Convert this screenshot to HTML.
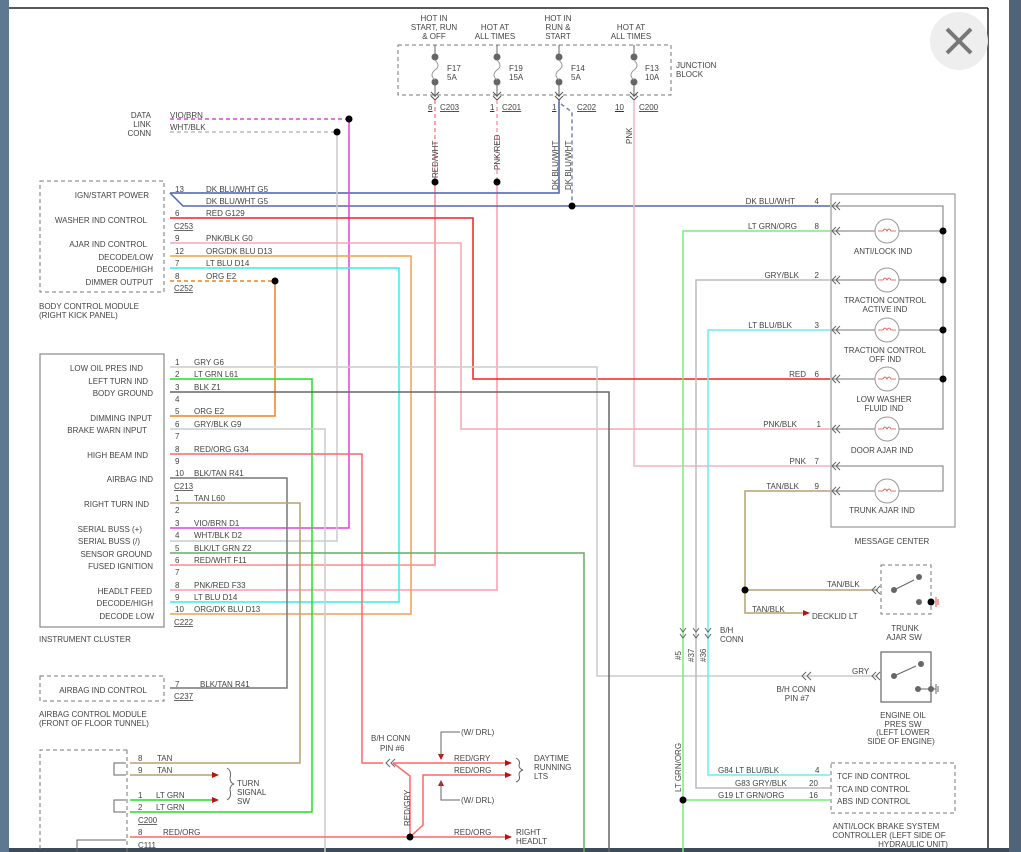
<!DOCTYPE html>
<html><head><meta charset="utf-8"><style>
html,body{margin:0;padding:0;background:#fff;width:1021px;height:852px;overflow:hidden}
svg text{font-family:"Liberation Sans",sans-serif;font-size:8px;fill:#444}
</style></head><body>
<svg width="1021" height="852" viewBox="0 0 1021 852" xmlns="http://www.w3.org/2000/svg">
<rect x="0" y="0" width="9" height="852" fill="#5f7891"/>
<rect x="1009" y="0" width="12" height="852" fill="#4f6379"/>
<rect x="9" y="848" width="1000" height="4" fill="#3d4a58"/>
<line x1="9" y1="8" x2="988" y2="8" stroke="#222" stroke-width="1.5"/>
<line x1="988" y1="8" x2="988" y2="848" stroke="#222" stroke-width="1.5"/>
<circle cx="959" cy="41" r="29" fill="#eeeeee"/>
<path d="M947 29 L971 53 M971 29 L947 53" stroke="#777" stroke-width="4"/>

<!-- junction block -->
<rect x="398" y="45" width="273" height="50" fill="none" stroke="#777" stroke-dasharray="4,3"/>
<g fill="#666" stroke="#666">
<line x1="435" y1="45" x2="435" y2="57"/><line x1="497" y1="45" x2="497" y2="57"/><line x1="559" y1="45" x2="559" y2="57"/><line x1="634" y1="45" x2="634" y2="57"/>
<circle cx="435" cy="57" r="3"/><circle cx="435" cy="82" r="3"/>
<circle cx="497" cy="57" r="3"/><circle cx="497" cy="82" r="3"/>
<circle cx="559" cy="57" r="3"/><circle cx="559" cy="82" r="3"/>
<circle cx="634" cy="57" r="3"/><circle cx="634" cy="82" r="3"/>
<line x1="435" y1="82" x2="435" y2="97"/><line x1="497" y1="82" x2="497" y2="97"/><line x1="559" y1="82" x2="559" y2="97"/><line x1="634" y1="82" x2="634" y2="97"/>
</g>
<g fill="none" stroke="#999">
<path d="M435 60 q6 6 0 10 q-6 5 0 10"/><path d="M497 60 q6 6 0 10 q-6 5 0 10"/><path d="M559 60 q6 6 0 10 q-6 5 0 10"/><path d="M634 60 q6 6 0 10 q-6 5 0 10"/>
<path d="M431 92 l4 4 l4 -4 M431 96 l4 4 l4 -4 M493 92 l4 4 l4 -4 M493 96 l4 4 l4 -4 M555 92 l4 4 l4 -4 M555 96 l4 4 l4 -4 M630 92 l4 4 l4 -4 M630 96 l4 4 l4 -4" stroke="#555"/>
</g>
<g text-anchor="middle">
<text x="434" y="21">HOT IN</text><text x="434" y="30">START, RUN</text><text x="434" y="39">&amp; OFF</text>
<text x="495" y="30">HOT AT</text><text x="495" y="39">ALL TIMES</text>
<text x="558" y="21">HOT IN</text><text x="558" y="30">RUN &amp;</text><text x="558" y="39">START</text>
<text x="631" y="30">HOT AT</text><text x="631" y="39">ALL TIMES</text>
</g>
<text x="447" y="71">F17</text><text x="447" y="80">5A</text>
<text x="509" y="71">F19</text><text x="509" y="80">15A</text>
<text x="571" y="71">F14</text><text x="571" y="80">5A</text>
<text x="645" y="71">F13</text><text x="645" y="80">10A</text>
<text x="676" y="68">JUNCTION</text><text x="676" y="77">BLOCK</text>
<g text-decoration="underline">
<text x="428" y="110">6</text><text x="440" y="110" text-decoration="underline">C203</text>
<text x="490" y="110">1</text><text x="502" y="110" text-decoration="underline">C201</text>
<text x="552" y="110">1</text><text x="577" y="110" text-decoration="underline">C202</text>
<text x="615" y="110">10</text><text x="639" y="110" text-decoration="underline">C200</text>
</g>

<!-- wires -->
<g fill="none" stroke-width="1.5">
<path d="M435 100 V182" stroke="#f88" stroke-dasharray="4,3"/>
<path d="M435 182 V565 H170" stroke="#f88"/>
<path d="M497 100 V182" stroke="#f9a" stroke-dasharray="4,3"/>
<path d="M497 182 V590 H170" stroke="#f9a"/>
<path d="M559 100 V193 H170" stroke="#4a5fa8"/>
<path d="M561 104 L572 112 V206" stroke="#7085c0" stroke-dasharray="4,3"/>
<path d="M170 193 L183 206 H830" stroke="#5068b0"/>
<path d="M634 100 V466 H830" stroke="#f9b0c0"/>
<path d="M170 119 H349" stroke="#d4d" stroke-dasharray="4,3"/>
<path d="M349 119 V528 H170" stroke="#d4d"/>
<path d="M170 132 H337" stroke="#bbb" stroke-dasharray="4,3"/>
<path d="M337 132 V541 H170" stroke="#ccc"/>
<path d="M170 218 H473 V379 H830" stroke="#e22"/>
<path d="M170 243 H461 V429 H830" stroke="#f5a8b0"/>
<path d="M170 256 H411 V614 H170" stroke="#f0a050"/>
<path d="M170 268 H399 V602 H170" stroke="#3ee"/>
<path d="M170 281 H275" stroke="#f08020" stroke-dasharray="4,3"/>
<path d="M275 281 V416 H170" stroke="#f08020"/>
<path d="M170 367 H597 V676 H878" stroke="#ccc"/>
<path d="M170 379 H312 V812 H130" stroke="#2d2"/>
<path d="M170 392 H609 V852" stroke="#666"/>
<path d="M170 429 H325 V852" stroke="#ccc"/>
<path d="M170 454 H362 V763 H383" stroke="#f66"/>
<path d="M170 478 H287 V688 H170" stroke="#777"/>
<path d="M170 503 H300 V763 H130" stroke="#b8a070"/>
<path d="M170 553 H584 V852" stroke="#6a6"/>
<path d="M130 775 H212" stroke="#b8a070"/>
<path d="M130 800 H212" stroke="#2d2"/>
<path d="M130 837 H507" stroke="#f66"/>
<path d="M393 763 H507 M393 763 L410 776 V837 M410 837 L423 825 V775 H507" stroke="#f66"/>
<path d="M830 231 H683 V852" stroke="#7e7"/>
<path d="M830 280 H696 V788 H830" stroke="#bbb"/>
<path d="M830 330 H708 V775 H830" stroke="#6ee"/>
<path d="M683 800 H830" stroke="#7e7"/>
<path d="M830 491 H745 V613 H803 M745 590 H878" stroke="#b8a070"/>
</g>
<g fill="#000">
<circle cx="349" cy="119" r="3.5"/><circle cx="337" cy="132" r="3.5"/><circle cx="435" cy="182" r="3.5"/><circle cx="497" cy="182" r="3.5"/><circle cx="572" cy="206" r="3.5"/><circle cx="275" cy="281" r="3.5"/><circle cx="410" cy="837" r="3.5"/><circle cx="683" cy="800" r="3.5"/><circle cx="745" cy="590" r="3.5"/>
</g>
<g fill="#b11">
<path d="M212 772 l7 3 l-7 3z"/><path d="M212 797 l7 3 l-7 3z"/><path d="M505 760 l7 3 l-7 3z"/><path d="M505 772 l7 3 l-7 3z"/><path d="M505 834 l7 3 l-7 3z"/><path d="M803 610 l7 3 l-7 3z"/><path d="M438 754 l3 6 l3 -6z"/><path d="M438 786 l3 -6 l3 6z"/>
</g>
<path d="M460 732 H441 V756 M441 782 V800 H460" fill="none" stroke="#666"/>
<g fill="none" stroke="#666">
<path d="M390 759 l-4 4 l4 4 M395 759 l-4 4 l4 4"/>
<path d="M806 672 l-4 4 l4 4 M811 672 l-4 4 l4 4"/>
<path d="M680 628 l3 4 l3 -4 M680 634 l3 4 l3 -4 M693 628 l3 4 l3 -4 M693 634 l3 4 l3 -4 M705 628 l3 4 l3 -4 M705 634 l3 4 l3 -4"/>
<path d="M227 768 q5 3 3 10 q0 5 4 6 q-4 1 -4 6 q2 7 -3 10" />
<path d="M516 758 q5 3 3 7 q0 4 4 5 q-4 1 -4 5 q2 5 -3 7"/>
</g>

<!-- BCM -->
<rect x="40" y="181" width="124" height="111" fill="none" stroke="#777" stroke-dasharray="4,3"/>
<g text-anchor="end">
<text x="149" y="198">IGN/START POWER</text><text x="147" y="223">WASHER IND CONTROL</text><text x="147" y="247">AJAR IND CONTROL</text><text x="153" y="260">DECODE/LOW</text><text x="153" y="272">DECODE/HIGH</text><text x="153" y="285">DIMMER OUTPUT</text>
</g>
<text x="39" y="309">BODY CONTROL MODULE</text><text x="39" y="318">(RIGHT KICK PANEL)</text>
<text x="175" y="192">13</text><text x="206" y="192">DK BLU/WHT G5</text><text x="206" y="204">DK BLU/WHT G5</text>
<text x="175" y="216">6</text><text x="206" y="216">RED G129</text><text x="174" y="229" text-decoration="underline">C253</text>
<text x="175" y="241">9</text><text x="206" y="241">PNK/BLK G0</text>
<text x="175" y="254">12</text><text x="206" y="254">ORG/DK BLU D13</text>
<text x="175" y="266">7</text><text x="206" y="266">LT BLU D14</text>
<text x="175" y="279">8</text><text x="206" y="279">ORG E2</text><text x="174" y="291" text-decoration="underline">C252</text>
<g text-anchor="end"><text x="151" y="118">DATA</text><text x="151" y="127">LINK</text><text x="151" y="136">CONN</text></g>
<text x="170" y="118">VIO/BRN</text><text x="170" y="130">WHT/BLK</text>

<!-- instrument cluster -->
<rect x="40" y="354" width="124" height="273" fill="none" stroke="#888" stroke-width="1.2"/>
<g text-anchor="end">
<text x="143" y="371">LOW OIL PRES IND</text><text x="148" y="384">LEFT TURN IND</text><text x="153" y="396">BODY GROUND</text><text x="152" y="421">DIMMING INPUT</text><text x="147" y="433">BRAKE WARN INPUT</text><text x="148" y="458">HIGH BEAM IND</text><text x="153" y="482">AIRBAG IND</text><text x="149" y="507">RIGHT TURN IND</text><text x="142" y="532">SERIAL BUSS (+)</text><text x="140" y="544">SERIAL BUSS (/)</text><text x="152" y="557">SENSOR GROUND</text><text x="153" y="569">FUSED IGNITION</text><text x="152" y="594">HEADLT FEED</text><text x="153" y="606">DECODE/HIGH</text><text x="154" y="619">DECODE LOW</text>
</g>
<text x="39" y="642">INSTRUMENT CLUSTER</text>
<g>
<text x="175" y="365">1</text><text x="194" y="365">GRY G6</text>
<text x="175" y="377">2</text><text x="194" y="377">LT GRN L61</text>
<text x="175" y="390">3</text><text x="194" y="390">BLK Z1</text>
<text x="175" y="402">4</text>
<text x="175" y="414">5</text><text x="194" y="414">ORG E2</text>
<text x="175" y="427">6</text><text x="194" y="427">GRY/BLK G9</text>
<text x="175" y="439">7</text>
<text x="175" y="452">8</text><text x="194" y="452">RED/ORG G34</text>
<text x="175" y="464">9</text>
<text x="175" y="476">10</text><text x="194" y="476">BLK/TAN R41</text>
<text x="174" y="489" text-decoration="underline">C213</text>
<text x="175" y="501">1</text><text x="194" y="501">TAN L60</text>
<text x="175" y="513">2</text>
<text x="175" y="526">3</text><text x="194" y="526">VIO/BRN D1</text>
<text x="175" y="538">4</text><text x="194" y="538">WHT/BLK D2</text>
<text x="175" y="551">5</text><text x="194" y="551">BLK/LT GRN Z2</text>
<text x="175" y="563">6</text><text x="194" y="563">RED/WHT F11</text>
<text x="175" y="575">7</text>
<text x="175" y="588">8</text><text x="194" y="588">PNK/RED F33</text>
<text x="175" y="600">9</text><text x="194" y="600">LT BLU D14</text>
<text x="175" y="612">10</text><text x="194" y="612">ORG/DK BLU D13</text>
<text x="174" y="625" text-decoration="underline">C222</text>
</g>

<!-- airbag -->
<rect x="40" y="676" width="124" height="25" fill="none" stroke="#777" stroke-dasharray="4,3"/>
<text x="103" y="693" text-anchor="middle">AIRBAG IND CONTROL</text>
<text x="175" y="687">7</text><text x="200" y="687">BLK/TAN R41</text>
<text x="174" y="699" text-decoration="underline">C237</text>
<text x="39" y="717">AIRBAG CONTROL MODULE</text><text x="39" y="726">(FRONT OF FLOOR TUNNEL)</text>

<!-- turn signal -->
<path d="M127 750 H40 V852 M127 750 V852" fill="none" stroke="#777" stroke-dasharray="4,3"/>
<path d="M126 763 H114 V775 H126 M126 800 H114 V812 H126" fill="none" stroke="#666"/>
<text x="138" y="761">8</text><text x="157" y="761">TAN</text>
<text x="138" y="773">9</text><text x="157" y="773">TAN</text>
<text x="138" y="798">1</text><text x="156" y="798">LT GRN</text>
<text x="138" y="810">2</text><text x="156" y="810">LT GRN</text>
<text x="138" y="823" text-decoration="underline">C200</text>
<text x="138" y="835">8</text><text x="163" y="835">RED/ORG</text>
<text x="138" y="848">C111</text>
<text x="237" y="786">TURN</text><text x="237" y="795">SIGNAL</text><text x="237" y="804">SW</text>
<path d="M77 852 V840 H126" fill="none" stroke="#666"/>

<text x="371" y="741">B/H CONN</text><text x="380" y="751">PIN #6</text>
<text x="461" y="735">(W/ DRL)</text><text x="461" y="803">(W/ DRL)</text>
<text x="454" y="761">RED/GRY</text><text x="454" y="773">RED/ORG</text><text x="454" y="835">RED/ORG</text>
<text x="534" y="761">DAYTIME</text><text x="534" y="770">RUNNING</text><text x="534" y="779">LTS</text>
<text x="516" y="835">RIGHT</text><text x="516" y="844">HEADLT</text>
<text transform="translate(410,826) rotate(-90)">RED/GRY</text>

<!-- vertical labels -->
<text transform="translate(438,178) rotate(-90)">RED/WHT</text>
<text transform="translate(500,170) rotate(-90)">PNK/RED</text>
<text transform="translate(558,190) rotate(-90)">DK BLU/WHT</text>
<text transform="translate(571,190) rotate(-90)">DK BLU/WHT</text>
<text transform="translate(632,144) rotate(-90)">PNK</text>
<text transform="translate(681,660) rotate(-90)">#5</text>
<text transform="translate(694,662) rotate(-90)">#37</text>
<text transform="translate(706,662) rotate(-90)">#36</text>
<text transform="translate(681,792) rotate(-90)">LT GRN/ORG</text>
<text x="720" y="633">B/H</text><text x="720" y="642">CONN</text>

<!-- message center -->
<rect x="831" y="194" width="124" height="333" fill="none" stroke="#999" stroke-width="1.2"/>
<path d="M832 206 H943 V429 H832 M832 466 H943 V491 H832 M832 231 H943 M832 280 H943 M832 330 H943 M832 379 H943" fill="none" stroke="#777"/>
<g fill="#000"><circle cx="943" cy="231" r="3.5"/><circle cx="943" cy="280" r="3.5"/><circle cx="943" cy="330" r="3.5"/><circle cx="943" cy="379" r="3.5"/></g>
<g fill="#fff" stroke="#999">
<circle cx="887" cy="231" r="12"/><circle cx="887" cy="280" r="12"/><circle cx="887" cy="330" r="12"/><circle cx="887" cy="379" r="12"/><circle cx="887" cy="429" r="12"/><circle cx="887" cy="491" r="12"/>
</g>
<g fill="none" stroke="#e44" stroke-width="0.8">
<path d="M878 231 h5 q2 -4 4 0 q2 -4 4 0 h5"/><path d="M878 280 h5 q2 -4 4 0 q2 -4 4 0 h5"/><path d="M878 330 h5 q2 -4 4 0 q2 -4 4 0 h5"/><path d="M878 379 h5 q2 -4 4 0 q2 -4 4 0 h5"/><path d="M878 429 h5 q2 -4 4 0 q2 -4 4 0 h5"/><path d="M878 491 h5 q2 -4 4 0 q2 -4 4 0 h5"/>
</g>
<g fill="none" stroke="#666">
<path d="M836 202 l-4 4 l4 4 M840 202 l-4 4 l4 4 M836 227 l-4 4 l4 4 M840 227 l-4 4 l4 4 M836 276 l-4 4 l4 4 M840 276 l-4 4 l4 4 M836 326 l-4 4 l4 4 M840 326 l-4 4 l4 4 M836 375 l-4 4 l4 4 M840 375 l-4 4 l4 4 M836 425 l-4 4 l4 4 M840 425 l-4 4 l4 4 M836 462 l-4 4 l4 4 M840 462 l-4 4 l4 4 M836 487 l-4 4 l4 4 M840 487 l-4 4 l4 4"/>
</g>
<g text-anchor="middle">
<text x="883" y="254">ANTI/LOCK IND</text>
<text x="885" y="303">TRACTION CONTROL</text><text x="885" y="312">ACTIVE IND</text>
<text x="885" y="353">TRACTION CONTROL</text><text x="885" y="362">OFF IND</text>
<text x="884" y="402">LOW WASHER</text><text x="884" y="411">FLUID IND</text>
<text x="882" y="453">DOOR AJAR IND</text>
<text x="882" y="513">TRUNK AJAR IND</text>
<text x="892" y="544">MESSAGE CENTER</text>
</g>
<g text-anchor="end">
<text x="795" y="204">DK BLU/WHT</text><text x="819" y="204">4</text>
<text x="797" y="229">LT GRN/ORG</text><text x="819" y="229">8</text>
<text x="799" y="278">GRY/BLK</text><text x="819" y="278">2</text>
<text x="792" y="328">LT BLU/BLK</text><text x="819" y="328">3</text>
<text x="806" y="377">RED</text><text x="819" y="377">6</text>
<text x="797" y="427">PNK/BLK</text><text x="821" y="427">1</text>
<text x="806" y="464">PNK</text><text x="819" y="464">7</text>
<text x="799" y="489">TAN/BLK</text><text x="819" y="489">9</text>
</g>

<!-- trunk ajar sw -->
<rect x="881" y="565" width="50" height="49" fill="none" stroke="#777" stroke-dasharray="4,3"/>
<g fill="#666"><circle cx="894" cy="590" r="3"/><circle cx="919" cy="577" r="3"/><circle cx="919" cy="602" r="3"/><circle cx="931" cy="602" r="3.5" fill="#000"/></g>
<path d="M894 590 L914 580" stroke="#666"/><path d="M876 586 l-4 4 l4 4 M880 586 l-4 4 l4 4" fill="none" stroke="#666"/>
<path d="M936 597 v10 M938 599 v6" stroke="#e44"/>
<text x="827" y="587">TAN/BLK</text><text x="752" y="612">TAN/BLK</text><text x="812" y="619">DECKLID LT</text>
<text x="905" y="631" text-anchor="middle">TRUNK</text><text x="904" y="640" text-anchor="middle">AJAR SW</text>

<!-- engine oil sw -->
<rect x="881" y="652" width="50" height="50" fill="none" stroke="#666" stroke-width="1.2"/>
<g fill="#666"><circle cx="894" cy="676" r="3"/><circle cx="921" cy="664" r="3"/><circle cx="918" cy="689" r="3"/><circle cx="931" cy="689" r="3"/></g>
<path d="M894 676 L916 666 M918 689 H936 M936 684 v10 M938 686 v6" stroke="#666" fill="none"/>
<path d="M876 672 l-4 4 l4 4 M880 672 l-4 4 l4 4" fill="none" stroke="#666"/>
<text x="852" y="674">GRY</text>
<text x="796" y="692" text-anchor="middle">B/H CONN</text><text x="797" y="701" text-anchor="middle">PIN #7</text>
<g text-anchor="middle"><text x="903" y="718">ENGINE OIL</text><text x="903" y="727">PRES SW</text><text x="903" y="735">(LEFT LOWER</text><text x="901" y="744">SIDE OF ENGINE)</text></g>

<!-- ABS -->
<rect x="831" y="763" width="124" height="50" fill="none" stroke="#777" stroke-dasharray="4,3"/>
<text x="837" y="779">TCF IND CONTROL</text><text x="837" y="792">TCA IND CONTROL</text><text x="837" y="804">ABS IND CONTROL</text>
<text x="718" y="773">G84 LT BLU/BLK</text><text x="815" y="773">4</text>
<text x="735" y="786">G83 GRY/BLK</text><text x="809" y="786">20</text>
<text x="718" y="798">G19 LT GRN/ORG</text><text x="809" y="798">16</text>
<g text-anchor="middle"><text x="886" y="829">ANTI/LOCK BRAKE SYSTEM</text><text x="889" y="838">CONTROLLER   (LEFT SIDE OF</text><text x="913" y="847">HYDRAULIC UNIT)</text></g>
</svg>
</body></html>
